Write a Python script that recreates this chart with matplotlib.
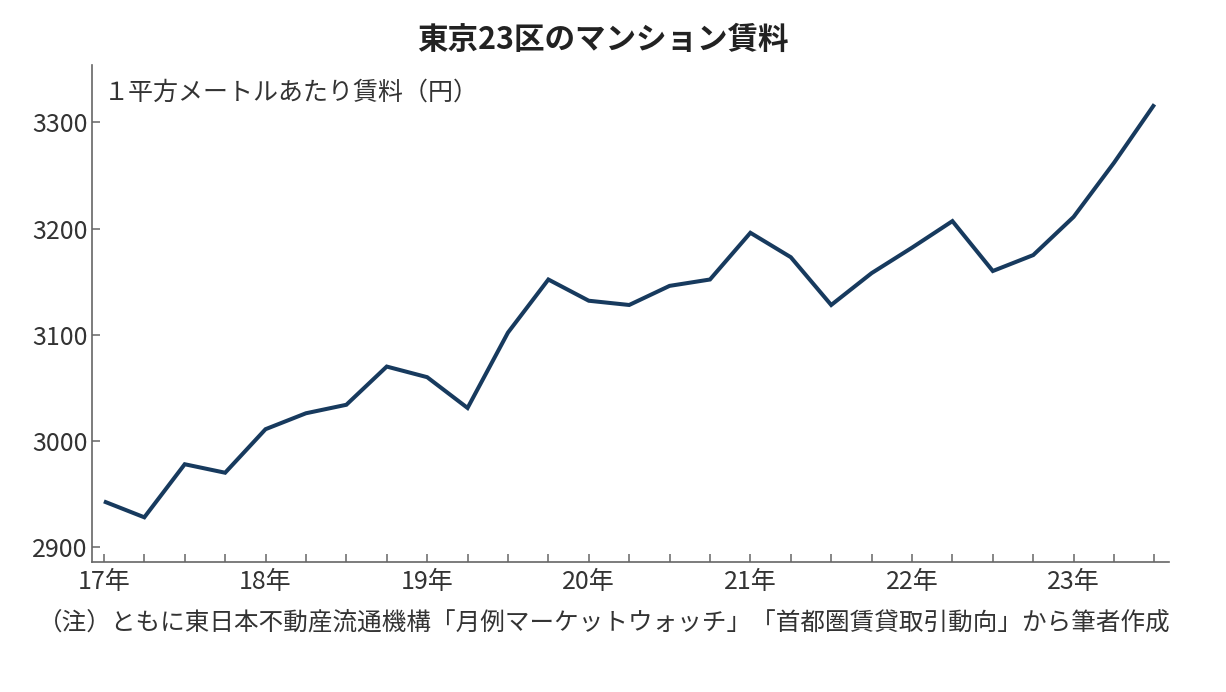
import matplotlib
matplotlib.use('Agg')
from matplotlib import pyplot as plt
from matplotlib.ticker import MultipleLocator, FixedLocator

# 四半期ごとの1平方メートルあたり賃料（円）
quarters = [17 + 0.25 * i for i in range(27)]
rent = [2943, 2928, 2978, 2970, 3011, 3026, 3034, 3070, 3060, 3031,
        3102, 3152, 3132, 3128, 3146, 3152, 3196, 3173, 3128, 3158,
        3182, 3207, 3160, 3175, 3211, 3262, 3317]

year_ticks = [17, 18, 19, 20, 21, 22, 23]
year_labels = [f'{y}年' for y in year_ticks]
y_ticks = [2900, 3000, 3100, 3200, 3300]

title = '東京23区のマンション賃料'
unit_label = '１平方メートルあたり賃料（円）'
note = '（注）ともに東日本不動産流通機構「月例マーケットウォッチ」「首都圏賃貸取引動向」から筆者作成'

cjk = ['Noto Sans CJK JP', 'DejaVu Sans']
plt.rcParams['font.family'] = cjk

fig = plt.figure(figsize=(12.26, 6.92), dpi=100)
ax = fig.add_axes([0.075, 0.188, 0.8785, 0.718])

ax.plot(quarters, rent, color='#173a5e', linewidth=2.9,
        solid_joinstyle='miter', solid_capstyle='butt')

ax.set_xlim(16.926, 23.59)
ax.set_ylim(2886, 3354)

ax.xaxis.set_major_locator(FixedLocator(year_ticks))
ax.xaxis.set_minor_locator(MultipleLocator(0.25))
ax.set_xticklabels(year_labels)
ax.set_yticks(y_ticks)

for s in ['top', 'right']:
    ax.spines[s].set_visible(False)
for s in ['left', 'bottom']:
    ax.spines[s].set_color('#666666')
    ax.spines[s].set_linewidth(1.2)

ax.tick_params(axis='both', which='both', direction='in', color='#666666',
               width=1.1, length=5.5, labelcolor='#333333', labelsize=18)
ax.tick_params(axis='x', pad=5)
ax.tick_params(axis='y', pad=3)

fig.text(0.492, 0.942, title, ha='center', va='center',
         fontsize=22, fontweight='bold', color='#222222')
fig.text(0.085, 0.866, unit_label, ha='left', va='center',
         fontsize=18, color='#333333')
fig.text(0.031, 0.101, note, ha='left', va='center',
         fontsize=17.7, color='#333333')

fig.savefig('out.png', dpi=100, facecolor='white')
